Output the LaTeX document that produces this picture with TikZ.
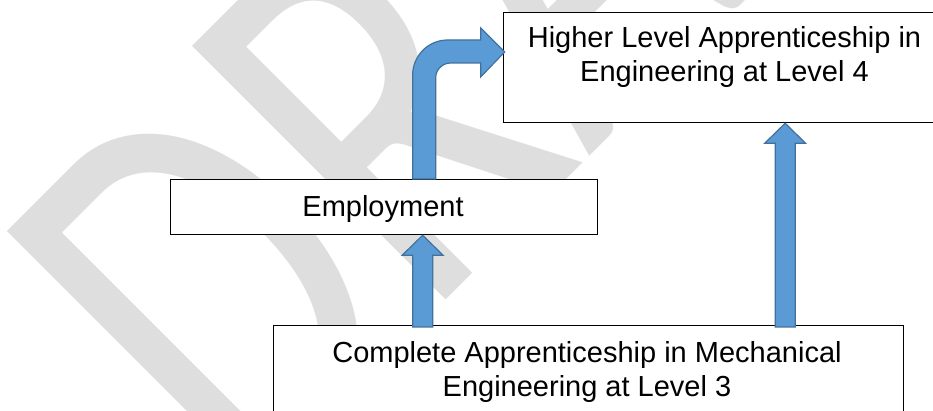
\documentclass[tikz,border=0pt]{standalone}
\usepackage{fontspec}
\usepackage{graphicx}
\setmainfont{Liberation Sans}
\newfontfamily\wmfont{Carlito}
\usetikzlibrary{calc}
\definecolor{wmgray}{RGB}{222,222,222}
\definecolor{arrowfill}{RGB}{91,155,213}
\definecolor{arrowline}{RGB}{65,113,156}
\tikzset{
  box/.style={draw=black, line width=1.3pt, fill=white, rectangle, inner sep=0pt},
  boxtext/.style={font=\fontsize{29}{34}\selectfont, align=center, inner sep=0pt},
  blockarrow/.style={fill=arrowfill, draw=arrowline, line width=1.2pt, line join=miter},
  watermark/.style={inner sep=0pt, text=wmgray, rotate=45,
    font=\wmfont\fontsize{559}{600}\selectfont},
}
% straight block arrow pointing up from #1 to #2
\newcommand\blockup[2]{%
  \filldraw[blockarrow] let \p1=(#1), \p2=(#2) in
    (\x1-10pt,\y1) -- (\x1-10pt,\y2-20pt) -- (\x1-20.5pt,\y2-20pt) -- (\x1,\y2)
    -- (\x1+20.5pt,\y2-20pt) -- (\x1+10pt,\y2-20pt) -- (\x1+10pt,\y1) -- cycle;}
\begin{document}
\begin{tikzpicture}[x=1pt,y=1pt]
\useasboundingbox (0,0) rectangle (933,411);
\clip (0,0) rectangle (933,411);

% watermark
\node[watermark, anchor=base west] (wm) at (240,-95) {\scalebox{0.76}[1]{DRAFT}};

% boxes
\node[box, minimum width=443pt, minimum height=110pt, anchor=north west] (hl4) at (503,399) {};
\node[box, minimum width=427pt, minimum height=55pt, anchor=north west] (emp) at (170,232) {};
\node[box, minimum width=630pt, minimum height=110pt, anchor=north west] (l3) at (273,86) {};

% straight arrows
\coordinate (a1s) at ([xshift=-166pt, yshift=-2pt]l3.north);
\coordinate (a2s) at ([xshift=196.5pt, yshift=-2pt]l3.north);
\blockup{a1s}{emp.south -| a1s}
\blockup{a2s}{hl4.south -| a2s}

% bent arrow from Employment to the higher level box
\coordinate (bs) at ([xshift=40pt]emp.north);
\begin{scope}[shift={(bs)}]
\filldraw[blockarrow] (-11.5,0) -- (-11.5,104)
  .. controls (-11.5,123.3) and (4.2,139) .. (23.5,139)
  -- (56.5,139) -- (56.5,151) -- (80.5,127) -- (56.5,102) -- (56.5,116)
  -- (26.5,116) .. controls (18.2,116) and (11.5,109.3) .. (11.5,101)
  -- (11.5,0) -- cycle;
\end{scope}

% texts (anchored on the baseline of the last line)
\node[boxtext, anchor=base] (hl4t) at (724.5,329) {Higher Level Apprenticeship in\\Engineering at Level 4};
\node[boxtext, anchor=base] (empt) at (383,194) {Employment};
\node[boxtext, anchor=base] (l3t) at (587,14) {Complete Apprenticeship in Mechanical\\Engineering at Level 3};
\end{tikzpicture}
\end{document}
